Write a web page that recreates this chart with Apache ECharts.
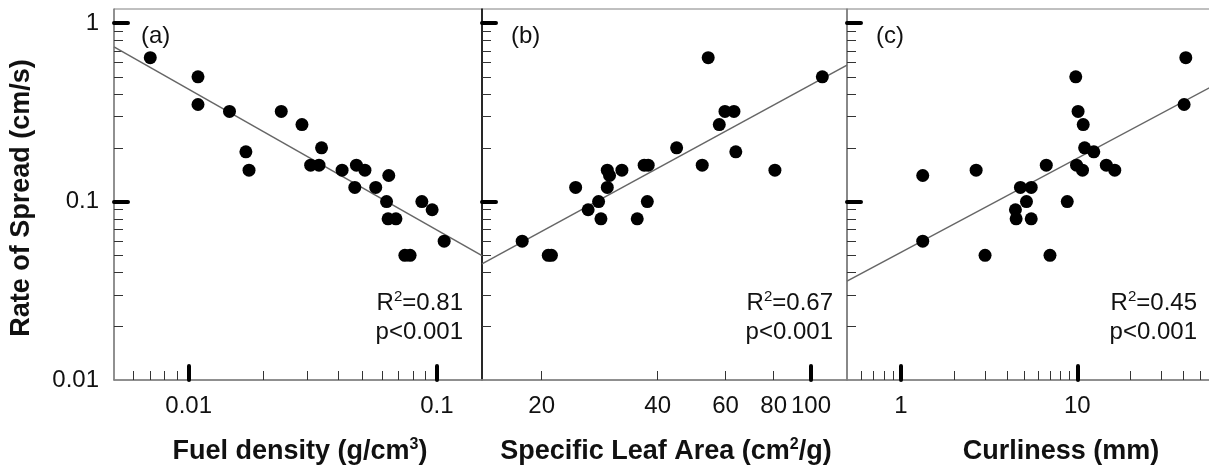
<!DOCTYPE html>
<html>
<head>
<meta charset="utf-8">
<script src="https://cdn.jsdelivr.net/npm/echarts@6/dist/echarts.min.js"></script>
<style>
html, body { margin: 0; padding: 0; background: #fff; }
#chart { width: 1209px; height: 470px; }
</style>
</head>
<body>
<div id="chart"></div>
<script>
// shared y axis (rate of spread, cm/s)
var yMajor = [0.1, 1];
var yMinor = [0.02, 0.03, 0.04, 0.05, 0.06, 0.07, 0.08, 0.09, 0.2, 0.3, 0.4, 0.5, 0.6, 0.7, 0.8, 0.9];
var yLabels = [0.01, 0.1, 1];

// (a) fuel density
var densityX = [0.007, 0.0109, 0.0109, 0.0146, 0.017, 0.0175, 0.0236, 0.0286, 0.0343, 0.031, 0.0335, 0.0415, 0.0474,
    0.0513, 0.0467, 0.0567, 0.064, 0.0627, 0.0636, 0.0684, 0.0743, 0.078, 0.087, 0.0957, 0.107];
var densityY = [0.64, 0.50, 0.35, 0.32, 0.19, 0.15, 0.32, 0.27, 0.20, 0.16, 0.16, 0.15, 0.16,
    0.15, 0.12, 0.12, 0.14, 0.10, 0.08, 0.08, 0.05, 0.05, 0.10, 0.09, 0.06];
var densityFitX = [0.005, 0.152];
var densityFitY = [0.736, 0.0498];
var densityMajor = [0.01, 0.1];
var densityMinor = [0.006, 0.007, 0.008, 0.009, 0.02, 0.03, 0.04, 0.05, 0.06, 0.07, 0.08, 0.09];
var densityLabels = [0.01, 0.1];

// (b) specific leaf area
var slaX = [17.8, 20.8, 21.2, 24.5, 26.4, 28.1, 28.5, 29.6, 29.6, 30.0, 32.3, 35.4, 36.9, 37.8, 37.6, 44.8,
    52.2, 54.1, 57.8, 59.8, 63.1, 63.8, 80.6, 107];
var slaY = [0.06, 0.05, 0.05, 0.12, 0.09, 0.10, 0.08, 0.12, 0.15, 0.14, 0.15, 0.08, 0.16, 0.16, 0.10, 0.20,
    0.16, 0.64, 0.27, 0.32, 0.32, 0.19, 0.15, 0.50];
var slaFitX = [14.0, 124];
var slaFitY = [0.0448, 0.582];
var slaMajor = [100];
var slaMinor = [20, 40, 60, 80];
var slaLabels = [20, 40, 60, 80, 100];

// (c) curliness
var curlX = [1.33, 1.33, 2.67, 3.0, 4.76, 5.48, 5.15, 4.46, 4.5, 5.48, 6.67, 7.0, 8.77, 9.8, 10.1, 10.8,
    11.0, 12.4, 9.9, 10.7, 14.6, 16.3, 40.3, 41.2];
var curlY = [0.14, 0.06, 0.15, 0.05, 0.12, 0.12, 0.10, 0.09, 0.08, 0.08, 0.16, 0.05, 0.10, 0.50, 0.32, 0.27,
    0.20, 0.19, 0.16, 0.15, 0.16, 0.15, 0.35, 0.64];
var curlFitX = [0.495, 56.5];
var curlFitY = [0.0358, 0.436];
var curlMajor = [1, 10];
var curlMinor = [0.6, 0.7, 0.8, 0.9, 2, 3, 4, 5, 6, 7, 8, 9, 20, 30, 40, 50];
var curlLabels = [1, 10];

var font = 'Liberation Sans, Arial, sans-serif';

var panels = [
    {x: densityX, y: densityY, fx: densityFitX, fy: densityFitY, min: 0.005, max: 0.152,
        major: densityMajor, minor: densityMinor, labels: densityLabels, left: 114, width: 368, yLine: '#808080'},
    {x: slaX, y: slaY, fx: slaFitX, fy: slaFitY, min: 14.0, max: 124,
        major: slaMajor, minor: slaMinor, labels: slaLabels, left: 482, width: 365, yLine: '#000'},
    {x: curlX, y: curlY, fx: curlFitX, fy: curlFitY, min: 0.495, max: 56.5,
        major: curlMajor, minor: curlMinor, labels: curlLabels, left: 847, width: 363, yLine: '#808080'}
];

function fmt(v) {
    return String(+Number(v).toPrecision(3));
}

function pairs(xs, ys) {
    var out = [];
    xs.forEach(function (v, i) { out.push([v, ys[i]]); });
    return out;
}

var grids = [], xAxes = [], yAxes = [], series = [];

panels.forEach(function (p, i) {
    grids.push({left: p.left, top: 9, width: p.width, height: 371, show: true,
        borderColor: '#808080', borderWidth: 1, outerBoundsMode: 'none'});

    // major ticks + labels
    xAxes.push({type: 'log', gridIndex: i, min: p.min, max: p.max, position: 'bottom',
        axisLine: {show: true, lineStyle: {color: '#808080', width: 1.5}},
        axisTick: {show: true, inside: true, length: 14, customValues: p.major,
            lineStyle: {color: '#000', width: 4, cap: 'round'}},
        axisLabel: {show: true, customValues: p.labels, formatter: fmt, margin: 14,
            fontSize: 24, color: '#111', fontFamily: font},
        splitLine: {show: false}});
    // minor ticks
    xAxes.push({type: 'log', gridIndex: i, min: p.min, max: p.max, position: 'bottom',
        axisLine: {show: false},
        axisTick: {show: true, inside: true, length: 9, customValues: p.minor,
            lineStyle: {color: '#333', width: 1}},
        axisLabel: {show: false}, splitLine: {show: false}});

    yAxes.push({type: 'log', gridIndex: i, min: 0.01, max: 1.2, position: 'left',
        axisLine: {show: true, lineStyle: {color: p.yLine, width: 1.5}},
        axisTick: {show: true, inside: true, length: 14, customValues: yMajor,
            lineStyle: {color: '#000', width: 4, cap: 'round'}},
        axisLabel: {show: i === 0, customValues: yLabels, formatter: fmt, margin: 15,
            fontSize: 24, color: '#111', fontFamily: font},
        splitLine: {show: false}});
    yAxes.push({type: 'log', gridIndex: i, min: 0.01, max: 1.2, position: 'left',
        axisLine: {show: false},
        axisTick: {show: true, inside: true, length: 9, customValues: yMinor,
            lineStyle: {color: '#333', width: 1}},
        axisLabel: {show: false}, splitLine: {show: false}});

    series.push({type: 'line', xAxisIndex: i * 2, yAxisIndex: i * 2, data: pairs(p.fx, p.fy),
        symbol: 'none', silent: true, lineStyle: {color: '#666', width: 1.5}, z: 2});
    series.push({type: 'scatter', xAxisIndex: i * 2, yAxisIndex: i * 2, data: pairs(p.x, p.y),
        symbol: 'circle', symbolSize: 13, itemStyle: {color: '#000', opacity: 1}, z: 3});
});

var sup = {fontSize: 15, fontFamily: font, fill: '#111', verticalAlign: 'top', lineHeight: 15};

function statText(x, r2) {
    return {type: 'text', x: x, y: 318, z: 10, style: {
        text: '{a|R}{s|2}{a|=' + r2 + '}\n{a|p<0.001}', align: 'right', verticalAlign: 'middle',
        rich: {a: {fontSize: 24, fontFamily: font, fill: '#111', lineHeight: 29}, s: sup}
    }};
}

function panelLabel(x, t) {
    return {type: 'text', x: x, y: 36, z: 10, style: {text: t, fontSize: 24, fontFamily: font,
        fill: '#111', align: 'left', verticalAlign: 'middle'}};
}

function axisTitle(x, name, unit, supTxt, tail) {
    var txt = '{b|' + name + ' }{b|' + unit + '}';
    if (supTxt) txt += '{t|' + supTxt + '}';
    txt += '{b|' + tail + '}';
    return {type: 'text', x: x, y: 452, z: 10, style: {text: txt, align: 'center', verticalAlign: 'middle',
        rich: {b: {fontSize: 27, fontWeight: 'bold', fontFamily: font, fill: '#111', lineHeight: 30},
            t: {fontSize: 16, fontWeight: 'bold', fontFamily: font, fill: '#111', verticalAlign: 'top', lineHeight: 16}}}};
}

var option = {
    animation: false,
    backgroundColor: '#fff',
    grid: grids,
    xAxis: xAxes,
    yAxis: yAxes,
    series: series,
    graphic: [
        {type: 'text', x: 22, y: 198, rotation: Math.PI / 2, z: 10, style: {text: 'Rate of Spread (cm/s)',
            fontSize: 27, fontWeight: 'bold', fontFamily: font, fill: '#111', align: 'center', verticalAlign: 'middle'}},
        panelLabel(141, '(a)'),
        panelLabel(511, '(b)'),
        panelLabel(876, '(c)'),
        statText(463, '0.81'),
        statText(833, '0.67'),
        statText(1197, '0.45'),
        axisTitle(300, 'Fuel density', '(g/cm', '3', ')'),
        axisTitle(666, 'Specific Leaf Area', '(cm', '2', '/g)'),
        axisTitle(1061, 'Curliness', '(mm)', '', '')
    ]
};

var chart = echarts.init(document.getElementById('chart'));
chart.setOption(option);
</script>
</body>
</html>
